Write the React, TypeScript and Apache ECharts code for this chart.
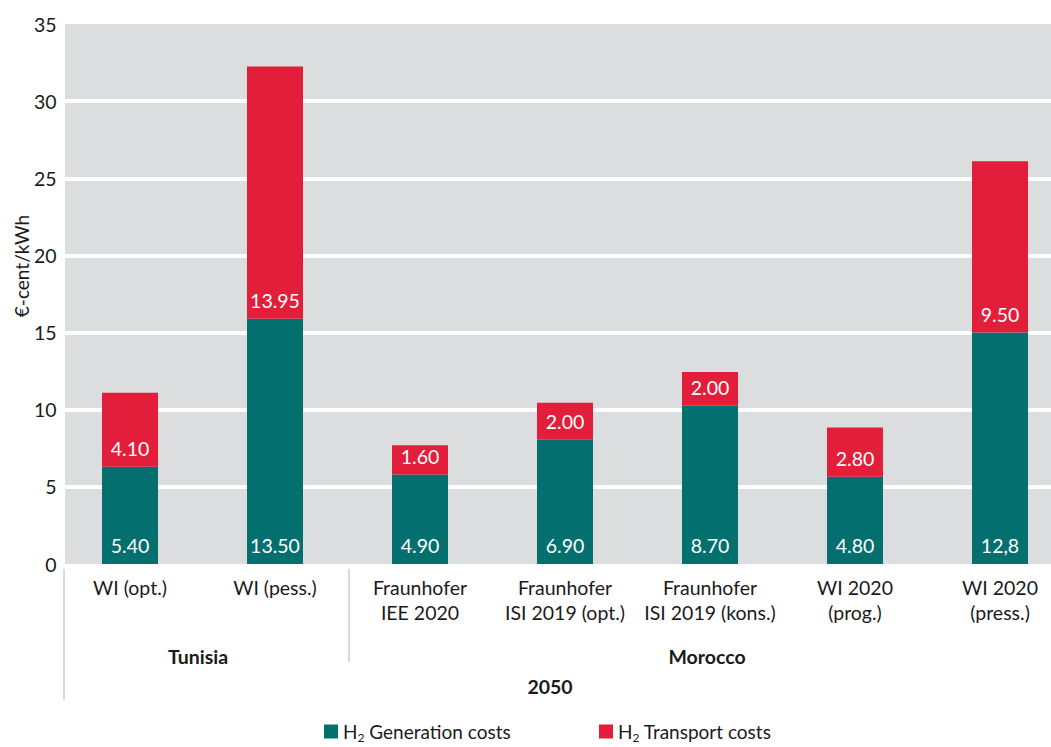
import React, { useEffect, useRef } from "react";
import * as echarts from "echarts";

const categories = [
  "WI (opt.)",
  "WI (pess.)",
  "Fraunhofer\nIEE 2020",
  "Fraunhofer\nISI 2019 (opt.)",
  "Fraunhofer\nISI 2019 (kons.)",
  "WI 2020\n(prog.)",
  "WI 2020\n(press.)",
];
// bar heights as drawn in the picture (€-cent/kWh)
const generationValues = [6.3, 15.9, 5.8, 8.05, 10.25, 5.65, 15.0];
const transportValues = [4.8, 16.35, 1.9, 2.4, 2.2, 3.2, 11.1];
// labels printed on the bars
const generationLabels = ["5.40", "13.50", "4.90", "6.90", "8.70", "4.80", "12,8"];
const transportLabels = ["4.10", "13.95", "1.60", "2.00", "2.00", "2.80", "9.50"];
const yTicks = { min: 0, max: 35, interval: 5 };
const groupLabels = [
  { text: "Tunisia", x: 198, y: 656 },
  { text: "Morocco", x: 707, y: 656 },
  { text: "2050", x: 550, y: 686 },
];
const seriesNames = ["H2 Generation costs", "H2 Transport costs"];

const GREEN = "#046f6f";
const RED = "#e31e3a";
const FONT = "Lato";
const TEXT = "#1a1a1a";

export default function App() {
  const ref = useRef<HTMLDivElement>(null);
  useEffect(() => {
    document.body.style.margin = "0";
    const chart = echarts.init(ref.current!, null, { renderer: "svg" });
    const legendFormatter = (name: string) =>
      name === seriesNames[0]
        ? "{a|H}{s|2}{a| Generation costs}"
        : "{a|H}{s|2}{a| Transport costs}";
    const legendText = {
      fontFamily: FONT,
      color: TEXT,
      rich: {
        a: { fontFamily: FONT, fontSize: 19, lineHeight: 24, color: TEXT },
        s: { fontFamily: FONT, fontSize: 12, lineHeight: 10, verticalAlign: "bottom", color: TEXT },
      },
    };
    chart.setOption({
      animation: false,
      textStyle: { fontFamily: FONT },
      grid: {
        left: 57.5,
        width: 1015,
        top: 24,
        bottom: 183,
        containLabel: false,
        outerBoundsMode: "none",
      },
      legend: [
        {
          data: [seriesNames[0]],
          left: 319,
          top: 717,
          icon: "rect",
          itemWidth: 14,
          itemHeight: 14,
          formatter: legendFormatter,
          textStyle: legendText,
        },
        {
          data: [seriesNames[1]],
          left: 594,
          top: 717,
          icon: "rect",
          itemWidth: 14,
          itemHeight: 14,
          formatter: legendFormatter,
          textStyle: legendText,
        },
      ],
      xAxis: {
        type: "category",
        data: categories,
        axisLine: { show: false },
        axisTick: { show: false },
        axisLabel: {
          interval: 0,
          margin: 11,
          fontFamily: FONT,
          fontSize: 19.5,
          lineHeight: 25,
          color: TEXT,
        },
      },
      yAxis: {
        type: "value",
        min: yTicks.min,
        max: yTicks.max,
        interval: yTicks.interval,
        axisLine: { show: false },
        axisTick: { show: false },
        axisLabel: {
          margin: 1,
          fontFamily: FONT,
          fontSize: 19.5,
          color: TEXT,
          padding: [0, 0, 9, 0],
        },
        splitLine: {
          show: true,
          showMinLine: false,
          showMaxLine: false,
          lineStyle: { color: "#ffffff", width: 4 },
        },
      },
      graphic: [
        {
          type: "rect",
          z: -100,
          silent: true,
          shape: { x: 65, y: 24, width: 1051 - 65, height: 564 - 24 },
          style: { fill: "#dcdddf" },
        },
        {
          type: "text",
          x: 21,
          y: 266,
          rotation: Math.PI / 2,
          style: {
            text: "€-cent/kWh",
            fontFamily: FONT,
            fontSize: 19,
            fill: TEXT,
            textAlign: "center",
            textVerticalAlign: "middle",
          },
        },
        {
          type: "line",
          shape: { x1: 64, y1: 569, x2: 64, y2: 700 },
          style: { stroke: "#d9d9d9", lineWidth: 2 },
        },
        {
          type: "line",
          shape: { x1: 349, y1: 569, x2: 349, y2: 662 },
          style: { stroke: "#d9d9d9", lineWidth: 2 },
        },
        ...groupLabels.map((g) => ({
          type: "text",
          x: g.x,
          y: g.y,
          style: {
            text: g.text,
            fontFamily: FONT,
            fontSize: 19.5,
            fontWeight: "bold",
            fill: TEXT,
            textAlign: "center",
            textVerticalAlign: "middle",
          },
        })),
      ],
      series: [
        {
          name: seriesNames[0],
          type: "bar",
          stack: "total",
          barWidth: 56,
          data: generationValues,
          itemStyle: { color: GREEN },
          label: {
            show: true,
            position: "insideBottom",
            distance: 9,
            color: "#ffffff",
            fontFamily: FONT,
            fontSize: 19.5,
            formatter: (p: any) => generationLabels[p.dataIndex],
          },
        },
        {
          name: seriesNames[1],
          type: "bar",
          stack: "total",
          barWidth: 56,
          data: transportValues,
          itemStyle: { color: RED },
          label: {
            show: true,
            position: "insideBottom",
            distance: 8,
            color: "#ffffff",
            fontFamily: FONT,
            fontSize: 19.5,
            formatter: (p: any) => transportLabels[p.dataIndex],
          },
        },
      ],
    });
    return () => chart.dispose();
  }, []);
  return <div ref={ref} style={{ width: 1051, height: 747 }} />;
}
